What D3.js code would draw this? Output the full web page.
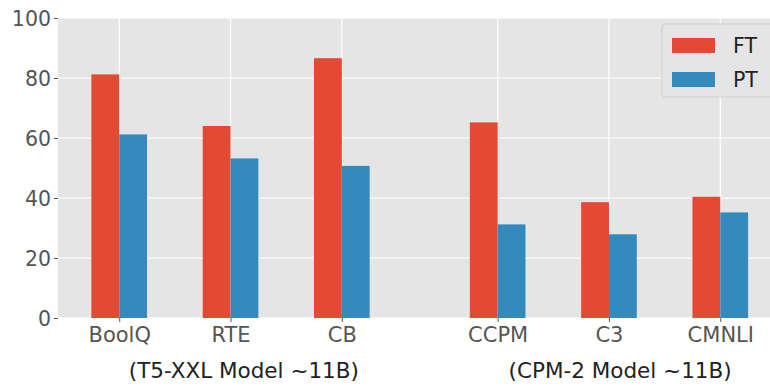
<!DOCTYPE html>
<html><head><meta charset="utf-8">
<script src="https://cdn.jsdelivr.net/npm/d3@7"></script>
<style>body{margin:0;background:#fff}svg{display:block}text{font-family:"DejaVu Sans",sans-serif}</style>
</head><body><svg id="c" width="770" height="390"></svg>
<script>
const categories = ["BoolQ","RTE","CB","CCPM","C3","CMNLI"];
const positions = [0,1,2,3.4,4.4,5.4];
const ftValues = [81.2,64.0,86.6,65.2,38.6,40.4];
const ptValues = [61.2,53.2,50.7,31.2,27.9,35.2];
const yTicks = [0,20,40,60,80,100];
const groupLabels = ["(T5-XXL Model ~11B)","(CPM-2 Model ~11B)"];
const groupCenters = [1.12,4.5];
const seriesNames = ["FT","PT"];
const colors = ["#E24A33","#348ABD"];

const svg = d3.select("#c");
const x = d3.scaleLinear().domain([-0.55,5.95]).range([58,781.5]);
const y = d3.scaleLinear().domain([0,100]).range([318,18]);
const bw = 0.25;

svg.append("rect").attr("x",x(-0.55)).attr("y",y(100)).attr("width",x(5.95)-x(-0.55)).attr("height",y(0)-y(100)).attr("fill","#E5E5E5");

// grid
svg.append("g").selectAll("line").data(yTicks).join("line")
  .attr("x1",x(-0.55)).attr("x2",x(5.95)).attr("y1",d=>y(d)).attr("y2",d=>y(d))
  .attr("stroke","#fff").attr("stroke-width",1.2);
svg.append("g").selectAll("line").data(positions).join("line")
  .attr("x1",d=>x(d)).attr("x2",d=>x(d)).attr("y1",y(0)).attr("y2",y(100))
  .attr("stroke","#fff").attr("stroke-width",1.2);

// bars
const g = svg.append("g");
g.selectAll("rect.ft").data(ftValues).join("rect").attr("class","ft")
  .attr("x",(d,i)=>x(positions[i]-bw)).attr("width",(d,i)=>x(positions[i])-x(positions[i]-bw))
  .attr("y",d=>y(d)).attr("height",d=>y(0)-y(d)).attr("fill",colors[0]);
g.selectAll("rect.pt").data(ptValues).join("rect").attr("class","pt")
  .attr("x",(d,i)=>x(positions[i])).attr("width",(d,i)=>x(positions[i]+bw)-x(positions[i]))
  .attr("y",d=>y(d)).attr("height",d=>y(0)-y(d)).attr("fill",colors[1]);

// y axis
const ya = d3.axisLeft(y).tickValues(yTicks).tickSize(4).tickPadding(3);
const yg = svg.append("g").attr("transform",`translate(${x(-0.55)},0)`).call(ya);
yg.select(".domain").remove();
yg.selectAll("line").attr("stroke","#555");
yg.selectAll("text").attr("fill","#555").style("font-size","20.5px").attr("dy","0.36em");

// x axis
const xa = d3.axisBottom(x).tickValues(positions).tickFormat((d,i)=>categories[i]).tickSize(4).tickPadding(5);
const xg = svg.append("g").attr("transform",`translate(0,${y(0)})`).call(xa);
xg.select(".domain").remove();
xg.selectAll("line").attr("stroke","#555");
xg.selectAll("text").attr("fill","#555").style("font-size","21px");

svg.append("g").selectAll("text").data(groupLabels).join("text")
  .attr("x",(d,i)=>x(groupCenters[i])).attr("y",378).attr("text-anchor","middle")
  .attr("fill","#222").style("font-size","21.5px").text(d=>d);

// legend
const lg = svg.append("g");
lg.append("rect").attr("x",662).attr("y",24).attr("width",120).attr("height",73).attr("rx",3)
  .attr("fill","#E5E5E5").attr("stroke","#cfcfcf").attr("stroke-width",1);
seriesNames.forEach((s,i)=>{
  lg.append("rect").attr("x",672).attr("y",38+i*34).attr("width",43).attr("height",15).attr("fill",colors[i]);
  lg.append("text").attr("x",733).attr("y",46+i*34).attr("dy","0.36em").attr("fill","#222").style("font-size","20.5px").text(s);
});
</script></body></html>
